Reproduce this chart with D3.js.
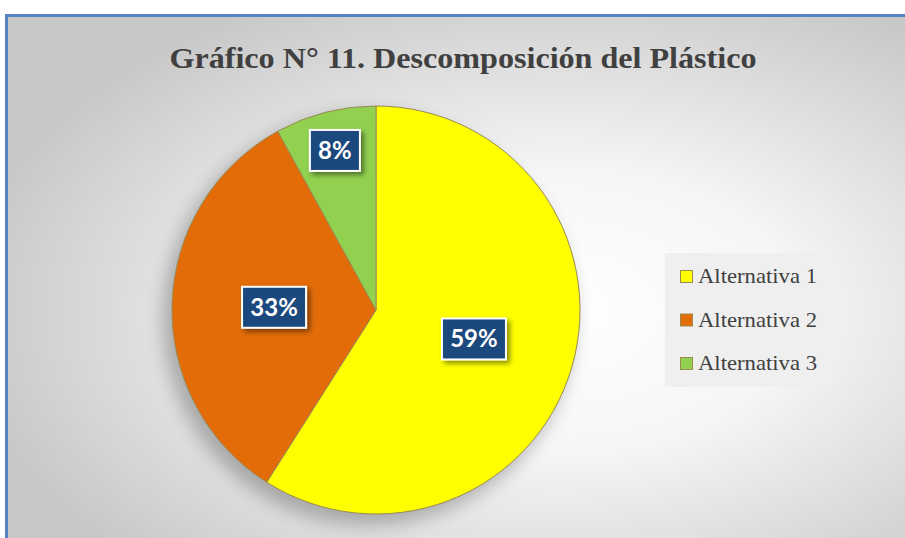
<!DOCTYPE html>
<meta charset="utf-8">
<style>
body { margin: 0; background: #fff; }
.title { font-family: "Liberation Serif", serif; font-weight: bold; fill: #404040; }
.legend text { font-family: "Liberation Serif", serif; fill: #404040; }
.lbl { font-family: Lato, "Open Sans", sans-serif; font-weight: bold; fill: #fff; }
</style>
<body>
<script src="https://cdn.jsdelivr.net/npm/d3@7"></script>
<script>
// data
var categories = ["Alternativa 1", "Alternativa 2", "Alternativa 3"];
var shares = [59, 33, 8];
var colours = ["#ffff00", "#e36c09", "#92d050"];

var W = 905, H = 538;
var svg = d3.select("body").append("svg").attr("width", W).attr("height", H);
var defs = svg.append("defs");

// background gradient of the chart area
var grad = defs.append("radialGradient").attr("id", "bg")
  .attr("cx", "0.6").attr("cy", "0.55").attr("r", "0.65");
grad.append("stop").attr("offset", "0").attr("stop-color", "#ffffff");
grad.append("stop").attr("offset", "0.4").attr("stop-color", "#f6f6f6");
grad.append("stop").attr("offset", "1").attr("stop-color", "#c8c8c8");

var sh = defs.append("filter").attr("id", "pieshadow")
  .attr("x", "-30%").attr("y", "-30%").attr("width", "160%").attr("height", "160%");
sh.append("feGaussianBlur").attr("stdDeviation", 9);

var bs = defs.append("filter").attr("id", "boxshadow")
  .attr("x", "-30%").attr("y", "-30%").attr("width", "170%").attr("height", "170%");
bs.append("feDropShadow").attr("dx", 3).attr("dy", 3).attr("stdDeviation", 2.5)
  .attr("flood-color", "#000").attr("flood-opacity", 0.45);

// frame
svg.append("rect").attr("x", 6.5).attr("y", 15.5).attr("width", W + 10).attr("height", H)
  .attr("fill", "url(#bg)").attr("stroke", "#5584c4").attr("stroke-width", 3);

svg.append("text").attr("class", "title")
  .attr("x", 463).attr("y", 68).attr("text-anchor", "middle")
  .attr("textLength", 587).attr("lengthAdjust", "spacingAndGlyphs")
  .style("font-size", "30px")
  .text("Gráfico N° 11. Descomposición del Plástico");

var cx = 376, cy = 310, r = 204;
var g = svg.append("g").attr("transform", "translate(" + cx + "," + cy + ")");

g.append("circle").attr("cx", -7).attr("cy", 9).attr("r", r + 2)
  .attr("fill", "#000").attr("opacity", 0.25).attr("filter", "url(#pieshadow)");

var pie = d3.pie().sort(null).value(function(d) { return d; });
var arcs = pie(shares);
var arc = d3.arc().innerRadius(0).outerRadius(r);

g.selectAll(".slice").data(arcs).enter().append("path")
  .attr("class", "slice")
  .attr("d", arc)
  .attr("fill", function(d, i) { return colours[i]; })
  .attr("stroke", "#9a8b52").attr("stroke-width", 1);

// data labels: small slices placed further out
var lab = g.selectAll(".lab").data(arcs).enter().append("g")
  .attr("class", "lab")
  .attr("transform", function(d) {
    var k = d.data < 10 ? 0.81 : 0.5;
    var a = (d.startAngle + d.endAngle) / 2;
    return "translate(" + (Math.sin(a) * r * k) + "," + (-Math.cos(a) * r * k) + ")";
  });
lab.append("rect")
  .attr("x", function(d) { return d.data < 10 ? -25 : -32; })
  .attr("y", -20)
  .attr("width", function(d) { return d.data < 10 ? 50 : 64; })
  .attr("height", 41)
  .attr("fill", "#1f497d").attr("stroke", "#fff").attr("stroke-width", 2)
  .attr("filter", "url(#boxshadow)");
lab.append("text").attr("class", "lbl")
  .attr("text-anchor", "middle").attr("y", 9)
  .style("font-size", "24px")
  .text(function(d) { return d.data + "%"; });

// legend
var lg = svg.append("g").attr("class", "legend");
lg.append("rect").attr("x", 665).attr("y", 253).attr("width", 167).attr("height", 134)
  .attr("fill", "#efefef");
var items = lg.selectAll(".item").data(categories).enter().append("g")
  .attr("class", "item")
  .attr("transform", function(d, i) { return "translate(680," + (270 + i * 43.5) + ")"; });
items.append("rect").attr("x", 0.5).attr("y", 0.5).attr("width", 12).attr("height", 12)
  .attr("fill", function(d, i) { return colours[i]; })
  .attr("stroke", "#9a8b52").attr("stroke-width", 1);
items.append("text").attr("x", 18).attr("y", 13)
  .attr("textLength", 119).attr("lengthAdjust", "spacingAndGlyphs")
  .style("font-size", "21px")
  .text(function(d) { return d; });
</script>
</body>
